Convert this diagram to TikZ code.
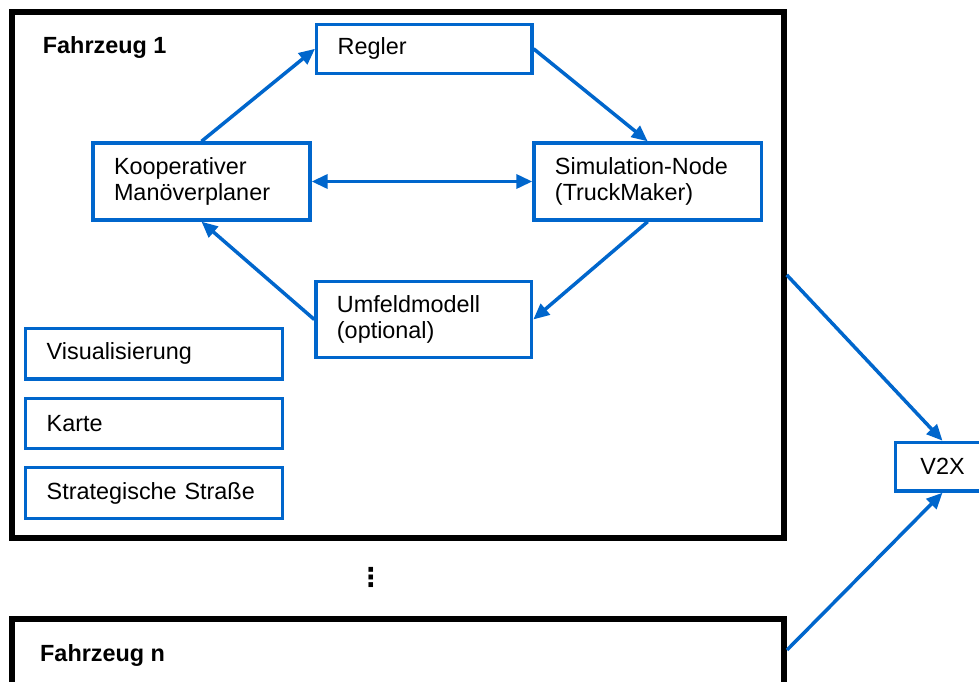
\documentclass[tikz,border=0pt]{standalone}
\usepackage{fontspec}
\setmainfont{Liberation Sans}
\newfontfamily\symfont{DejaVu Sans}
\usetikzlibrary{arrows.meta}
\definecolor{linkblue}{RGB}{0,102,204}
\begin{document}
\begin{tikzpicture}[x=1pt,y=-1pt,
  >={Triangle[length=16pt,width=14pt]},
  txt/.style={font=\fontsize{23.4pt}{26.5pt}\selectfont},
  comp/.style={draw=linkblue, line width=3.3pt, txt, align=left,
    inner xsep=21pt, inner ysep=0pt},
  vehicle/.style={draw=black, line width=6pt, inner sep=0pt},
  vlabel/.style={font=\bfseries\fontsize{23.4pt}{26pt}\selectfont,
    inner sep=0pt, anchor=base west},
  flow/.style={draw=linkblue, line width=3.5pt},
  ]
\useasboundingbox (0,0) rectangle (979,682);

% vehicle containers
\node[vehicle, minimum width=771.7pt, minimum height=526.3pt] (fz1) at (397.9,274.9) {};
\node[vehicle, minimum width=772pt, minimum height=82pt] (fzn) at (398,660) {};
\node[vlabel] (lbl1) at (42.7,53.3) {Fahrzeug 1};
\node[vlabel] (lbln) at (40,661) {Fahrzeug n};

% ellipsis between the vehicles
\node[font=\symfont\bfseries\fontsize{26pt}{26pt}\selectfont, inner sep=0pt]
  (dots) at (370.8,577) {⋮};

% components of vehicle 1
\node[comp, text width=173.3pt, minimum width=215.3pt, minimum height=49pt]
  (regler) at (424.3,48.8) {Regler};
\node[comp, text width=175pt, minimum width=217pt, minimum height=77pt]
  (koop) at (201.5,181.5) {Kooperativer\\Manöverplaner};
\node[comp, text width=185.5pt, minimum width=227.5pt, minimum height=77pt]
  (sim) at (647.7,181.5) {Simulation-Node\\(TruckMaker)};
\node[comp, text width=173.7pt, minimum width=215.7pt, minimum height=75.6pt]
  (umfeld) at (423.8,319.5) {Umfeldmodell\\(optional)};
\node[comp, text width=214.6pt, minimum width=256.6pt, minimum height=50.7pt]
  (vis) at (154,353.7) {Visualisierung};
\node[comp, text width=214.6pt, minimum width=256.6pt, minimum height=50pt]
  (karte) at (154,423.3) {Karte};
\node[comp, text width=214.6pt, minimum width=256.6pt, minimum height=50.6pt]
  (strasse) at (154,493) {Strategische Straße};

% communication node
\node[comp, align=center, text width=51.6pt, minimum width=93.6pt, minimum height=48.7pt]
  (v2x) at (942.5,466.7) {V2X};

% data flow inside vehicle 1
\draw[flow, ->] (koop.north) -- (regler.west);
\draw[flow, ->] (regler.east) -- (sim.north);
\draw[flow, <->] (koop.east) -- (sim.west);
\draw[flow, ->] (sim.south) -- (umfeld.east);
\draw[flow, ->] (umfeld.west) -- (koop.south);

% vehicles to V2X
\draw[flow, ->] (fz1.east) -- (v2x.north);
\draw[flow, ->] (fzn.east |- 0,650) coordinate (fznout) -- (v2x.south);
\end{tikzpicture}
\end{document}
